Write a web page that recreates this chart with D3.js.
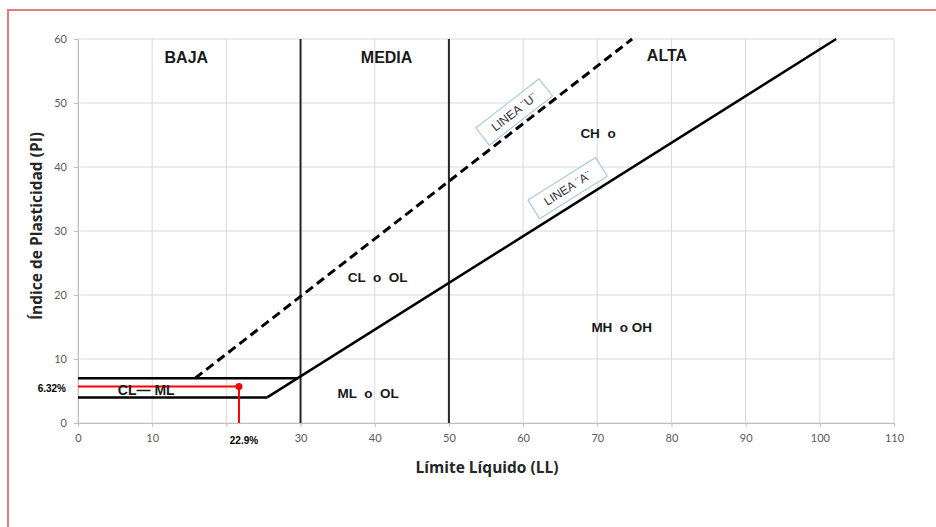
<!DOCTYPE html>
<html>
<head>
<meta charset="utf-8">
<script src="https://cdn.jsdelivr.net/npm/d3@7"></script>
<style>
  html, body { margin: 0; padding: 0; background: #fff; overflow: hidden; }
  svg { display: block; }
</style>
</head>
<body>
<div id="chart"></div>
<script>
// ---- data (Carta de plasticidad) ----
const llTicks = [0, 10, 20, 30, 40, 50, 60, 70, 80, 90, 100, 110];
const piTicks = [0, 10, 20, 30, 40, 50, 60];

// boundaries: [LL, PI]
const lineaA = [[25.5, 4], [102.2, 60]];
const lineaU = [[15.8, 7], [74.7, 60]];
const lowerBand = [[0, 4], [25.5, 4]];
const upperBand = [[0, 7], [29.6, 7]];
const llLimits = [30, 50];

// sample point (as drawn) and its written values
const sampleLL = 21.7;
const samplePI = 5.7;
const sampleLLText = "22.9%";
const samplePIText = "6.32%";

// zone labels: [text, LL, PI, size]
const zoneLabels = [
  ["BAJA", 14.6, 57.2, 16],
  ["MEDIA", 41.6, 57.2, 16],
  ["ALTA", 79.4, 57.5, 16],
  ["CH  o", 70.1, 45.3, 13.5],
  ["CL  o  OL", 40.4, 22.8, 13.5],
  ["MH  o OH", 73.3, 15.0, 13.5],
  ["ML  o  OL", 39.1, 4.7, 13.5],
  ["CL\u2014 ML", 9.2, 5.2, 14]
];
// line tags: [text, LL, PI, which line]
const lineTags = [
  ["LINEA \u00a8U\u00a8", 58.8, 48.6, "U"],
  ["LINEA \u00a8A\u00a8", 66.0, 36.7, "A"]
];

// ---- layout ----
const W = 936, H = 527;
const m = { left: 78, right: 42, top: 39, bottom: 104 };

const svg = d3.select("#chart").append("svg")
  .attr("width", W).attr("height", H);

// red frame (runs off right/bottom edge)
svg.append("rect")
  .attr("x", 8).attr("y", 10)
  .attr("width", W + 20).attr("height", H + 20)
  .attr("fill", "#fff")
  .attr("stroke", "#e07c7c").attr("stroke-width", 2);

const x = d3.scaleLinear().domain([0, 110]).range([m.left, W - m.right]);
const y = d3.scaleLinear().domain([0, 60]).range([H - m.bottom, m.top]);

const g = svg.append("g");

// grid
g.append("g").selectAll("line").data(llTicks).join("line")
  .attr("x1", d => x(d)).attr("x2", d => x(d))
  .attr("y1", y(0)).attr("y2", y(60))
  .attr("stroke", "#d9d9d9").attr("stroke-width", 1);
g.append("g").selectAll("line").data(piTicks).join("line")
  .attr("x1", x(0)).attr("x2", x(110))
  .attr("y1", d => y(d)).attr("y2", d => y(d))
  .attr("stroke", "#d9d9d9").attr("stroke-width", 1);

// axes (the 20 label is covered by the sample value in the original)
const xAxis = g.append("g")
  .attr("transform", `translate(0,${y(0)})`)
  .call(d3.axisBottom(x).tickValues(llTicks).tickSize(4).tickSizeOuter(0).tickPadding(7)
    .tickFormat(d => d === 20 ? "" : d));
const yAxis = g.append("g")
  .attr("transform", `translate(${x(0)},0)`)
  .call(d3.axisLeft(y).tickValues(piTicks).tickSize(4).tickSizeOuter(0).tickPadding(7));
[xAxis, yAxis].forEach(a => {
  a.select(".domain").attr("stroke", "#bfbfbf");
  a.selectAll(".tick line").attr("stroke", "#bfbfbf");
  a.selectAll(".tick text")
    .attr("fill", "#595959")
    .style("font-family", "Lato, 'Open Sans', sans-serif")
    .style("font-size", "11px");
});

const line = d3.line().x(d => x(d[0])).y(d => y(d[1]));

// LL = 30 / 50 limits
g.append("g").selectAll("line").data(llLimits).join("line")
  .attr("x1", d => x(d)).attr("x2", d => x(d))
  .attr("y1", y(0)).attr("y2", y(60))
  .attr("stroke", "#262626").attr("stroke-width", 2);

// band + A-line
[lowerBand, upperBand, lineaA].forEach(pts => {
  g.append("path").attr("d", line(pts))
    .attr("fill", "none").attr("stroke", "#000").attr("stroke-width", 2.5);
});
// U-line dashed
g.append("path").attr("d", line(lineaU))
  .attr("fill", "none").attr("stroke", "#000").attr("stroke-width", 3)
  .attr("stroke-dasharray", "9,5");

// sample point lines
g.append("path").attr("d", line([[0, samplePI], [sampleLL, samplePI], [sampleLL, 0]]))
  .attr("fill", "none").attr("stroke", "#ff0000").attr("stroke-width", 2);
g.append("circle").attr("cx", x(sampleLL)).attr("cy", y(samplePI)).attr("r", 3.5)
  .attr("fill", "#ff0000");
g.append("text").attr("x", x(0) - 12).attr("y", y(samplePI) + 2).attr("dy", "0.35em")
  .attr("text-anchor", "end")
  .style("font-family", "'Liberation Sans', Arial, sans-serif")
  .style("font-size", "10px").style("font-weight", "bold")
  .text(samplePIText);
g.append("text").attr("x", x(sampleLL) + 5).attr("y", y(0) + 17).attr("dy", "0.35em")
  .attr("text-anchor", "middle")
  .style("font-family", "'Liberation Sans', Arial, sans-serif")
  .style("font-size", "10px").style("font-weight", "bold")
  .text(sampleLLText);

// zone labels
g.append("g").selectAll("text").data(zoneLabels).join("text")
  .attr("x", d => x(d[1])).attr("y", d => y(d[2])).attr("dy", "0.35em")
  .attr("text-anchor", "middle")
  .attr("fill", "#1a1a1a")
  .style("font-family", "'Liberation Sans', Arial, sans-serif")
  .style("font-weight", "bold")
  .style("font-size", d => d[3] + "px")
  .style("white-space", "pre")
  .attr("xml:space", "preserve")
  .text(d => d[0]);

// line tags
const slope = pts => Math.atan2(y(pts[1][1]) - y(pts[0][1]), x(pts[1][0]) - x(pts[0][0])) * 180 / Math.PI;
const tags = g.append("g").selectAll("g").data(lineTags).join("g")
  .attr("transform", d => `translate(${x(d[1])},${y(d[2])}) rotate(${slope(d[3] === "U" ? lineaU : lineaA)})`);
tags.append("rect")
  .attr("x", -40).attr("y", -11).attr("width", 80).attr("height", 22)
  .attr("fill", "#fff").attr("stroke", "#9dc3e6").attr("stroke-width", 1);
tags.append("text")
  .attr("text-anchor", "middle").attr("dy", "0.35em")
  .attr("fill", "#333")
  .style("font-family", "'Liberation Sans', Arial, sans-serif")
  .style("font-size", "12px")
  .text(d => d[0]);

// axis titles
svg.append("text")
  .attr("x", (x(0) + x(110)) / 2 + 1).attr("y", 468).attr("dy", "0.35em")
  .attr("text-anchor", "middle")
  .attr("fill", "#262626")
  .style("font-family", "'Open Sans', Lato, sans-serif")
  .style("font-weight", "bold").style("font-size", "15.5px")
  .text("Límite Líquido (LL)");
svg.append("text")
  .attr("transform", `translate(37,226) rotate(-90)`).attr("dy", "0.35em")
  .attr("text-anchor", "middle")
  .attr("fill", "#262626")
  .style("font-family", "'Open Sans', Lato, sans-serif")
  .style("font-weight", "bold").style("font-size", "15.5px")
  .text("Índice de Plasticidad (PI)");
</script>
</body>
</html>
